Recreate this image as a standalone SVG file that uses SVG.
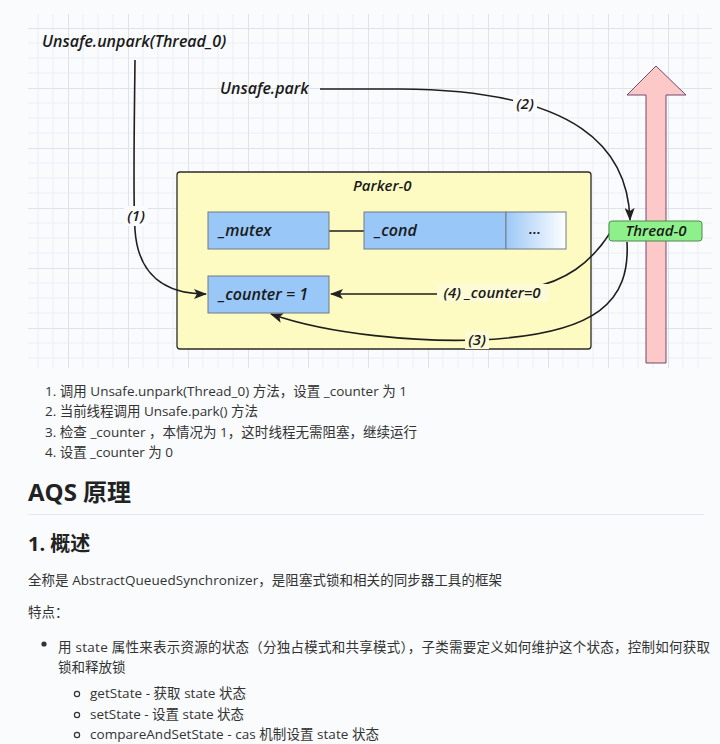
<svg xmlns="http://www.w3.org/2000/svg" width="720" height="744" viewBox="0 0 720 744">
<defs>
<pattern id="grid" patternUnits="userSpaceOnUse" x="8" y="28" width="60" height="60">
<path d="M15,0V60M30,0V60M45,0V60M0,15H60M0,30H60M0,45H60" stroke="#eceef3" stroke-width="1" fill="none"/>
<path d="M0.5,0V60M0,0.5H60" stroke="#dfe2e8" stroke-width="1" fill="none"/>
</pattern>
<linearGradient id="dots" x1="0" y1="0" x2="1" y2="0">
<stop offset="0" stop-color="#9cc8f6"/>
<stop offset="1" stop-color="#ffffff"/>
</linearGradient>
<marker id="ah" markerWidth="14" markerHeight="10" refX="12" refY="5" orient="auto" markerUnits="userSpaceOnUse">
<path d="M0,0 L13,5 L0,10 L3,5 z" fill="#222"/>
</marker>
<style>
.dg{font-family:"Open Sans","Noto Sans",sans-serif;font-style:italic;font-weight:600;fill:#1a1a1a}
.box{fill:#99c7f7;stroke:#6f7b88;stroke-width:1}
.edge{fill:none;stroke:#1e1e1e;stroke-width:1.6}
.lbl{fill:#fbfbfd}
.body{font-family:"Open Sans","Noto Sans CJK SC",sans-serif;font-size:13.5px;fill:#333}
.h{font-family:"Open Sans","Noto Sans CJK SC",sans-serif;font-weight:bold;fill:#222}
</style>
</defs>
<rect width="720" height="744" fill="#fafbfd"/>
<rect x="28" y="14" width="684" height="354" fill="url(#grid)"/>

<g id="pink-arrow">
<path d="M656,66 L686,95 L666,95 L666,363 L646,363 L646,95 L627,95 Z" fill="#fcc8c8" stroke="#6e4a6e" stroke-width="1"/>
</g>

<g id="parker-0">
<rect x="177" y="172" width="414" height="177" rx="3" fill="#fdfbc2" stroke="#2a2a2a" stroke-width="1.3"/>
<text class="dg" x="353" y="191" font-size="15">Parker-0</text>
</g>

<g id="connectors">
<line x1="329" y1="231" x2="364" y2="231" stroke="#1e1e1e" stroke-width="1.3"/>
<path class="edge" d="M135,60 C134,150 133,200 135,230 C138,275 165,294 206,294" marker-end="url(#ah)"/>
<path class="edge" d="M320,89 L400,89 C580,90 628,150 630,220" marker-end="url(#ah)"/>
<path class="edge" d="M610,233 C590,264 565,281 530,288 C510,292 490,294 470,294 L331,294" marker-end="url(#ah)"/>
<path class="edge" d="M627,242 C630,300 600,335 477,340 C420,342 330,335 271,314" marker-end="url(#ah)"/>
<rect class="lbl" x="124" y="206" width="24" height="20"/>
<text class="dg" x="136" y="221" font-size="15" text-anchor="middle">(1)</text>
<rect class="lbl" x="513" y="95" width="24" height="18"/>
<text class="dg" x="525" y="109" font-size="15" text-anchor="middle">(2)</text>
<rect x="437" y="284" width="112" height="18" fill="#fdfbd6"/>
<text class="dg" x="492" y="298" font-size="15" text-anchor="middle">(4) _counter=0</text>
<rect x="465" y="331" width="24" height="18" fill="#fdfbd6"/>
<text class="dg" x="477" y="345" font-size="15" text-anchor="middle">(3)</text>
</g>

<g id="unpark">
<text class="dg" x="42" y="47" font-size="16">Unsafe.unpark(Thread_0)</text>
</g>
<g id="park">
<text class="dg" x="220" y="94" font-size="16">Unsafe.park</text>
</g>

<g id="mutex">
<rect class="box" x="208" y="212" width="121" height="37"/>
<text class="dg" x="219" y="236" font-size="16">_mutex</text>
</g>
<g id="cond">
<rect class="box" x="364" y="212" width="142" height="37"/>
<text class="dg" x="375" y="236" font-size="16">_cond</text>
</g>
<g id="more">
<rect x="506" y="212" width="60" height="37" fill="url(#dots)" stroke="#6f7b88" stroke-width="1"/>
<text class="dg" x="535" y="234" font-size="15" text-anchor="middle">...</text>
</g>
<g id="counter">
<rect class="box" x="208" y="276" width="121" height="37"/>
<text class="dg" x="219" y="300" font-size="16">_counter = 1</text>
</g>
<g id="thread-0">
<rect x="609" y="221" width="93" height="20" rx="3" fill="#8ef08a" stroke="#4d8a4d" stroke-width="1"/>
<text class="dg" x="656" y="236" font-size="15" text-anchor="middle">Thread-0</text>
</g>

<g id="text">
<text class="body" x="45" y="396" textLength="362" lengthAdjust="spacing">1. 调用 Unsafe.unpark(Thread_0) 方法，设置 _counter 为 1</text>
<text class="body" x="45" y="416" textLength="213" lengthAdjust="spacing">2. 当前线程调用 Unsafe.park() 方法</text>
<text class="body" x="45" y="437" textLength="372" lengthAdjust="spacing">3. 检查 _counter ，本情况为 1，这时线程无需阻塞，继续运行</text>
<text class="body" x="45" y="457" textLength="128" lengthAdjust="spacing">4. 设置 _counter 为 0</text>
<text class="h" x="28" y="501" font-size="24">AQS 原理</text>
<line x1="28" y1="514.5" x2="704" y2="514.5" stroke="#e6e8ee" stroke-width="1"/>
<text class="h" x="28" y="551" font-size="20">1. 概述</text>
<text class="body" x="28" y="585" textLength="474" lengthAdjust="spacing">全称是 AbstractQueuedSynchronizer，是阻塞式锁和相关的同步器工具的框架</text>
<text class="body" x="28" y="617">特点：</text>
<circle cx="44" cy="644" r="2.6" fill="#333"/>
<text class="body" x="58" y="652" textLength="652" lengthAdjust="spacing">用 state 属性来表示资源的状态（分独占模式和共享模式），子类需要定义如何维护这个状态，控制如何获取</text>
<text class="body" x="58" y="672">锁和释放锁</text>
<circle cx="77" cy="694" r="2.6" fill="none" stroke="#333" stroke-width="1.2"/>
<text class="body" x="90" y="698" textLength="156" lengthAdjust="spacing">getState - 获取 state 状态</text>
<circle cx="77" cy="715" r="2.6" fill="none" stroke="#333" stroke-width="1.2"/>
<text class="body" x="90" y="719" textLength="154" lengthAdjust="spacing">setState - 设置 state 状态</text>
<circle cx="77" cy="735" r="2.6" fill="none" stroke="#333" stroke-width="1.2"/>
<text class="body" x="90" y="739" textLength="289" lengthAdjust="spacing">compareAndSetState - cas 机制设置 state 状态</text>
</g>
</svg>
